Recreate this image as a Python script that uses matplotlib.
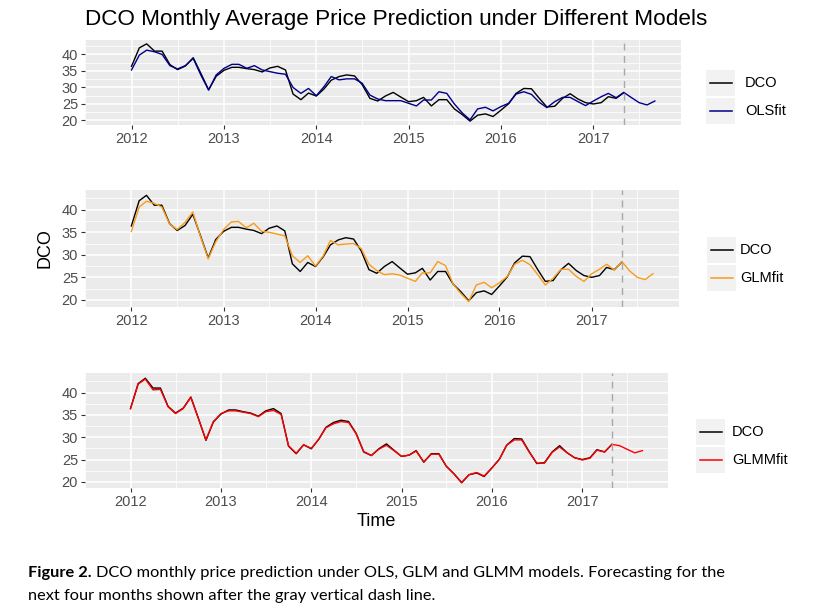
import matplotlib
matplotlib.use("Agg")
import matplotlib.pyplot as plt
import matplotlib.dates as mdates
from matplotlib.patches import Rectangle
from matplotlib.lines import Line2D
import numpy as np
import pandas as pd
from datetime import datetime

plt.rcParams["font.family"] = ["Liberation Sans", "DejaVu Sans"]

# ---------------- data ----------------
months = pd.date_range("2012-01-01", "2017-09-01", freq="MS")
obs_end = pd.Timestamp("2017-05-01")

dco = [36.4, 42.0, 43.2, 41.0, 41.0, 36.9, 35.4, 36.5, 39.0, 34.3, 29.3, 33.4,
       35.2, 36.1, 36.1, 35.7, 35.4, 34.7, 35.9, 36.4, 35.3, 28.0, 26.3, 28.3,
       27.4, 29.6, 32.2, 33.3, 33.8, 33.5, 30.9, 26.7, 25.9, 27.4, 28.5, 27.1,
       25.7, 26.0, 27.0, 24.4, 26.3, 26.3, 23.5, 21.8, 19.8, 21.6, 22.0, 21.2,
       23.1, 25.1, 28.2, 29.7, 29.6, 26.7, 24.1, 24.3, 26.7, 28.1, 26.5, 25.4,
       25.0, 25.4, 27.2, 26.7, 28.4]

ols_fit = [35.3, 39.8, 41.3, 40.8, 40.0, 36.6, 35.6, 36.6, 38.8, 33.8, 29.2, 33.8,
           35.8, 37.0, 37.0, 35.8, 36.6, 35.3, 34.8, 34.3, 34.0, 30.0, 28.2, 29.7,
           27.5, 30.3, 33.3, 32.3, 32.6, 32.6, 31.3, 27.7, 26.5, 26.0, 26.0, 26.0,
           25.2, 24.4, 26.2, 26.2, 28.7, 28.2, 25.0, 22.3, 20.2, 23.5, 24.0, 22.9,
           24.2, 25.2, 28.0, 28.7, 27.9, 25.5, 23.9, 25.7, 27.0, 27.0, 25.7, 24.5,
           25.9, 27.2, 28.2, 26.9, 28.5, 26.9, 25.4, 24.7, 25.9]

glm_fit = [35.2, 40.6, 41.9, 41.4, 40.6, 36.8, 35.6, 37.2, 39.5, 34.1, 29.1, 32.9,
           35.6, 37.3, 37.4, 36.0, 37.0, 35.2, 35.0, 34.6, 34.2, 29.8, 28.3, 29.8,
           27.5, 29.8, 33.2, 32.2, 32.4, 32.5, 31.4, 27.9, 26.5, 25.6, 25.8, 25.5,
           24.8, 24.1, 26.0, 26.0, 28.5, 27.6, 23.5, 21.4, 19.6, 23.3, 23.9, 22.7,
           23.8, 25.2, 27.9, 28.8, 27.8, 25.6, 23.3, 24.8, 26.8, 26.8, 25.2, 24.1,
           25.8, 26.8, 27.9, 26.6, 28.5, 26.4, 25.0, 24.5, 25.8]

glmm_fit = [36.4, 41.9, 43.0, 40.6, 40.7, 36.8, 35.3, 36.4, 38.9, 34.3, 29.4, 33.5,
            35.3, 35.9, 35.9, 35.6, 35.3, 34.6, 35.7, 36.0, 35.1, 28.1, 26.4, 28.3,
            27.5, 29.6, 32.1, 33.0, 33.5, 33.3, 30.8, 26.8, 25.9, 27.3, 28.2, 27.0,
            25.7, 26.0, 26.9, 24.5, 26.2, 26.2, 23.5, 21.8, 19.9, 21.6, 22.1, 21.3,
            23.1, 25.1, 28.2, 29.4, 29.4, 26.6, 24.2, 24.2, 26.6, 27.8, 26.5, 25.4,
            24.9, 25.3, 27.1, 26.7, 28.4, 28.1, 27.3, 26.5, 27.0]

fit_names = ["OLSfit", "GLMfit", "GLMMfit"]
fit_series = [ols_fit, glm_fit, glmm_fit]
fit_colors = ["#00008B", "#F99B1C", "#FF0000"]
yticks = [20, 25, 30, 35, 40]
year_ticks = [2012, 2013, 2014, 2015, 2016, 2017]

W, H = 824, 614
fig = plt.figure(figsize=(W / 100, H / 100), dpi=100)
fig.patch.set_facecolor("white")

def fr(x, y):
    return x / W, 1 - y / H

# panel pixel boxes: left, top, right, bottom
boxes = [(85, 40, 681, 125), (85, 190, 679, 307), (85, 373, 668, 488)]
# legend: key box left, first row center y, text x
legends = [(706, 83, 745), (707, 250, 740), (696, 432, 732)]
key_h = 28
key_w = 29

span = months[-1] - months[0]
pad = span * 0.05
xlo, xhi = months[0] - pad, months[-1] + pad

axes = []
for i, (l, t, r, b) in enumerate(boxes):
    ax = fig.add_axes([l / W, 1 - b / H, (r - l) / W, (b - t) / H])
    axes.append(ax)
    ax.set_facecolor("#EBEBEB")
    for s in ax.spines.values():
        s.set_visible(False)
    ax.plot(months[:len(dco)], dco, color="black", lw=1.0, zorder=3)
    ax.plot(months, fit_series[i], color=fit_colors[i], lw=1.0, zorder=4)
    ax.axvline(obs_end, color="#A8A8A8", lw=1.0, ls=(0, (5, 4)), zorder=5)
    ax.set_xlim(xlo, xhi)
    vmin, vmax = min(dco + fit_series[i]), max(dco + fit_series[i])
    e = (vmax - vmin) * 0.05
    ax.set_ylim(vmin - e, vmax + e)
    ax.set_yticks(yticks)
    ax.set_yticks([22.5, 27.5, 32.5, 37.5, 42.5], minor=True)
    ax.set_xticks([datetime(y, 1, 1) for y in year_ticks])
    ax.set_xticks([datetime(y, 7, 1) for y in [2011] + year_ticks], minor=True)
    ax.xaxis.set_major_formatter(mdates.DateFormatter("%Y"))
    ax.grid(which="major", color="white", lw=1.1, zorder=0)
    ax.grid(which="minor", color="white", lw=0.55, zorder=0)
    ax.set_axisbelow(True)
    ax.tick_params(which="major", length=3, width=0.8, color="#333333",
                   labelcolor="#4D4D4D", labelsize=10.5, pad=2)
    ax.tick_params(which="minor", length=0)

    # legend
    kl, ky, tx = legends[i]
    labels = ["DCO", fit_names[i]]
    cols = ["black", fit_colors[i]]
    for j in range(2):
        cy = ky + j * key_h
        x0, y0 = fr(kl, cy + key_h / 2 - 1)
        fig.patches.append(Rectangle((x0, y0), key_w / W, (key_h - 2) / H,
                                     transform=fig.transFigure,
                                     facecolor="#F2F2F2", edgecolor="none"))
        xa, ya = fr(kl + 4, cy)
        xb, _ = fr(kl + key_w - 3, cy)
        fig.lines.append(Line2D([xa, xb], [ya, ya], transform=fig.transFigure,
                                color=cols[j], lw=1.1))
        fig.text(*fr(tx, cy), labels[j], fontsize=10.5, va="center",
                 ha="left", color="black")

axes[1].set_ylabel("DCO", fontsize=13, labelpad=6)
axes[2].set_xlabel("Time", fontsize=13, labelpad=3)

fig.text(*fr(85, 20), "DCO Monthly Average Price Prediction under Different Models",
         fontsize=16.2, ha="left", va="center", color="black")

# caption
cap_font = ["Lato", "DejaVu Sans"]
cap_size = 11.8
t1 = fig.text(*fr(28, 573), "Figure 2.", fontsize=cap_size, weight="bold",
              family=cap_font, va="center", ha="left")
fig.canvas.draw()
bb = t1.get_window_extent()
fig.text((bb.x1 + 4) / W, 1 - 573 / H,
         "DCO monthly price prediction under OLS, GLM and GLMM models. Forecasting for the",
         fontsize=cap_size, family=cap_font, va="center", ha="left")
fig.text(*fr(28, 596), "next four months shown after the gray vertical dash line.",
         fontsize=cap_size, family=cap_font, va="center", ha="left")

fig.savefig("out.png", dpi=100)
